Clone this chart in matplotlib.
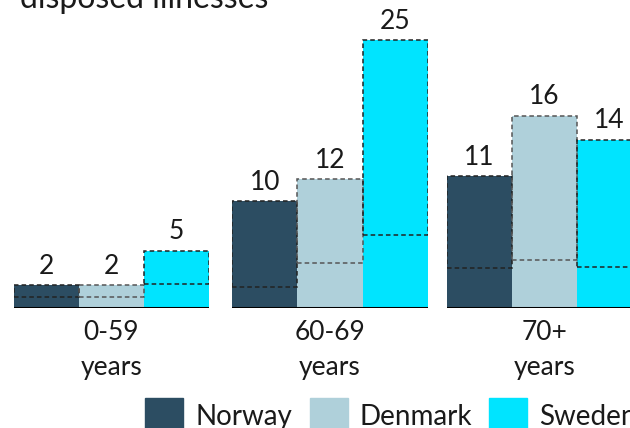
import matplotlib.pyplot as plt
from matplotlib.patches import Rectangle

plt.rcParams['font.family'] = ['Lato', 'DejaVu Sans']

groups = ['0-59\nyears', '60-69\nyears', '70+\nyears']
countries = ['Norway', 'Denmark', 'Sweden']
colors = ['#2c4d62', '#afd0da', '#00e4ff']
edge_colors = ['#222222', '#555555', '#222222']

# number of illnesses per age group, one list per group (Norway, Denmark, Sweden)
values = [
    [2, 2, 5],
    [10, 12, 25],
    [11, 16, 14],
]
# lower edge of the dashed range box
lower = [
    [1.0, 1.0, 2.1],
    [2.0, 4.2, 6.8],
    [3.3, 4.0, 3.4],
]
# each group has its own axis scale
ytops = [26.8, 28.7, 25.6]

W, H = 630, 428
fig = plt.figure(figsize=(W / 100, H / 100), dpi=100)

lefts = [14, 232, 447]
widths = [195, 196, 195]
base = 120 / H

for g, grp in enumerate(groups):
    ax = fig.add_axes([lefts[g] / W, base, widths[g] / W, 1 - base])
    xs = range(len(countries))
    ax.bar(xs, values[g], width=1.0, color=colors, linewidth=0)
    for i in xs:
        ax.bar(i, values[g][i] - lower[g][i], bottom=lower[g][i], width=1.0,
               fill=False, edgecolor=edge_colors[i], linewidth=1.1,
               linestyle=(0, (3, 2)))
        ax.annotate(str(values[g][i]), xy=(i, values[g][i]), xytext=(0, 8),
                    textcoords='offset points', ha='center', va='baseline',
                    fontsize=19, color='#1a1a1a', annotation_clip=False)
    ax.axhline(0, color='black', linewidth=2.2)
    ax.set_xlim(-0.5, 2.5)
    ax.set_ylim(0, ytops[g])
    ax.annotate(grp, xy=(1, 0), xytext=(0, -9), textcoords='offset points',
                ha='center', va='top', fontsize=19, linespacing=1.5,
                color='#1a1a1a', annotation_clip=False)
    ax.axis('off')

fig.text(20 / W, 1 - 8 / H, 'disposed illnesses', fontsize=23,
         va='baseline', ha='left', color='#1a1a1a')

# legend along the bottom edge
leg_x = [145, 310, 489]
for x, c, name in zip(leg_x, colors, countries):
    fig.patches.append(Rectangle((x / W, 0), 38 / W, 30 / H, color=c,
                                 transform=fig.transFigure))
    fig.text((x + 50) / W, 3 / H, name, fontsize=20, va='baseline',
             ha='left', color='#1a1a1a')

fig.savefig('out.png', dpi=100)
